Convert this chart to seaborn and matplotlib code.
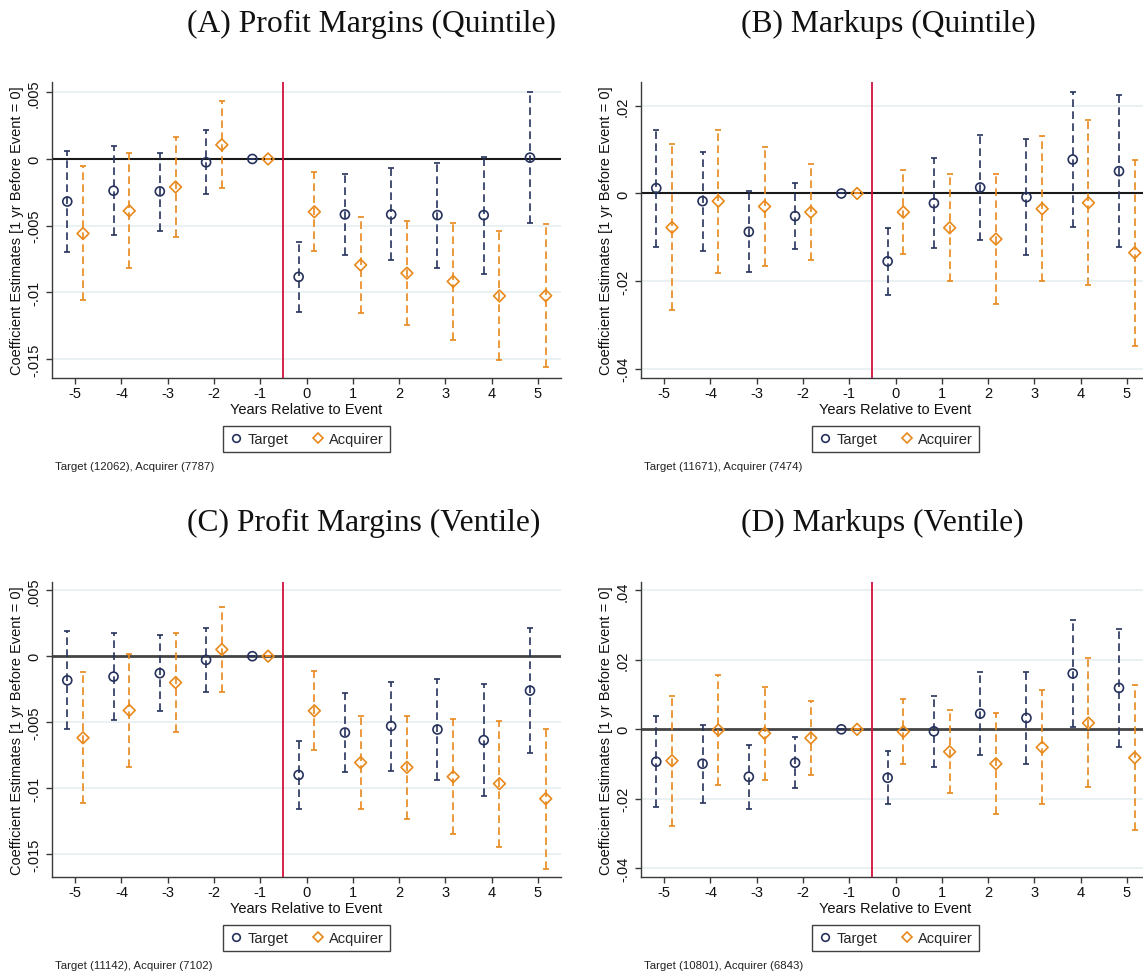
import numpy as np
import pandas as pd
import matplotlib
matplotlib.use("Agg")
import matplotlib.pyplot as plt
from matplotlib.lines import Line2D
from matplotlib.ticker import FixedLocator, FixedFormatter
import seaborn as sns

# ---------------------------------------------------------------------------
# Event-study coefficients (point estimate, upper and lower 95% bound)
# ---------------------------------------------------------------------------
years = [-5, -4, -3, -2, -1, 0, 1, 2, 3, 4, 5]

# (A) Profit margins, quintile
a_tgt = [-0.00319, -0.00238, -0.00243, -0.00025, 0.0, -0.00884, -0.00416, -0.00416, -0.00421, -0.00421, 0.00010]
a_tgt_hi = [0.00059, 0.00099, 0.00047, 0.00218, 0.0, -0.00624, -0.00114, -0.00069, -0.00030, 0.00015, 0.00502]
a_tgt_lo = [-0.00696, -0.00572, -0.00537, -0.00262, 0.0, -0.01144, -0.00720, -0.00760, -0.00817, -0.00859, -0.00483]
a_acq = [-0.00559, -0.00389, -0.00210, 0.00106, 0.0, -0.00396, -0.00795, -0.00856, -0.00918, -0.01027, -0.01025]
a_acq_hi = [-0.00054, 0.00045, 0.00161, 0.00433, 0.0, -0.00097, -0.00438, -0.00465, -0.00480, -0.00542, -0.00488]
a_acq_lo = [-0.01059, -0.00817, -0.00584, -0.00215, 0.0, -0.00693, -0.01153, -0.01245, -0.01359, -0.01510, -0.01557]

# (B) Markups, quintile
b_tgt = [0.00122, -0.00175, -0.00875, -0.00517, 0.0, -0.01551, -0.00221, 0.00137, -0.00084, 0.00776, 0.00510]
b_tgt_hi = [0.01460, 0.00958, 0.00053, 0.00243, 0.0, -0.00799, 0.00814, 0.01346, 0.01247, 0.02327, 0.02259]
b_tgt_lo = [-0.01224, -0.01316, -0.01802, -0.01270, 0.0, -0.02312, -0.01255, -0.01072, -0.01415, -0.00768, -0.01224]
b_acq = [-0.00776, -0.00175, -0.00297, -0.00426, 0.0, -0.00426, -0.00783, -0.01042, -0.00350, -0.00213, -0.01354]
b_acq_hi = [0.01133, 0.01460, 0.01072, 0.00669, 0.0, 0.00548, 0.00449, 0.00441, 0.01316, 0.01681, 0.00768]
b_acq_lo = [-0.02669, -0.01810, -0.01658, -0.01513, 0.0, -0.01392, -0.02000, -0.02517, -0.02008, -0.02099, -0.03475]

# (C) Profit margins, ventile
c_tgt = [-0.00183, -0.00155, -0.00129, -0.00028, 0.0, -0.00901, -0.00579, -0.00530, -0.00556, -0.00637, -0.00261]
c_tgt_hi = [0.00188, 0.00178, 0.00160, 0.00211, 0.0, -0.00645, -0.00279, -0.00195, -0.00170, -0.00213, 0.00216]
c_tgt_lo = [-0.00553, -0.00485, -0.00419, -0.00269, 0.0, -0.01157, -0.00878, -0.00871, -0.00942, -0.01063, -0.00736]
c_acq = [-0.00619, -0.00411, -0.00200, 0.00051, 0.0, -0.00414, -0.00807, -0.00843, -0.00914, -0.00967, -0.01081]
c_acq_hi = [-0.00119, 0.00018, 0.00173, 0.00376, 0.0, -0.00114, -0.00452, -0.00452, -0.00477, -0.00490, -0.00553]
c_acq_lo = [-0.01117, -0.00838, -0.00574, -0.00274, 0.0, -0.00713, -0.01162, -0.01233, -0.01350, -0.01444, -0.01612]

# (D) Markups, ventile
d_tgt = [-0.00933, -0.00990, -0.01365, -0.00962, 0.0, -0.01394, -0.00058, 0.00452, 0.00327, 0.01606, 0.01192]
d_tgt_hi = [0.00375, 0.00125, -0.00442, -0.00212, 0.0, -0.00635, 0.00971, 0.01644, 0.01644, 0.03135, 0.02894]
d_tgt_lo = [-0.02240, -0.02106, -0.02288, -0.01702, 0.0, -0.02144, -0.01077, -0.00740, -0.00990, 0.00077, -0.00510]
d_acq = [-0.00904, -0.00019, -0.00115, -0.00250, 0.0, -0.00067, -0.00644, -0.00990, -0.00519, 0.00183, -0.00817]
d_acq_hi = [0.00962, 0.01577, 0.01221, 0.00827, 0.0, 0.00885, 0.00558, 0.00471, 0.01125, 0.02048, 0.01288]
d_acq_lo = [-0.02769, -0.01615, -0.01452, -0.01308, 0.0, -0.01010, -0.01837, -0.02433, -0.02144, -0.01673, -0.02904]

titles = ["(A) Profit Margins (Quintile)", "(B) Markups (Quintile)",
          "(C) Profit Margins (Ventile)", "(D) Markups (Ventile)"]
notes = ["Target (12062), Acquirer (7787)", "Target (11671), Acquirer (7474)",
         "Target (11142), Acquirer (7102)", "Target (10801), Acquirer (6843)"]

ytick_vals_pm = [0.005, 0.0, -0.005, -0.01, -0.015]
ytick_lbls_pm = [".005", "0", "-.005", "-.01", "-.015"]
ytick_vals_mq = [0.02, 0.0, -0.02, -0.04]
ytick_lbls_mq = [".02", "0", "-.02", "-.04"]
ytick_vals_mv = [0.04, 0.02, 0.0, -0.02, -0.04]
ytick_lbls_mv = [".04", ".02", "0", "-.02", "-.04"]

series = [
    (a_tgt, a_tgt_lo, a_tgt_hi, a_acq, a_acq_lo, a_acq_hi),
    (b_tgt, b_tgt_lo, b_tgt_hi, b_acq, b_acq_lo, b_acq_hi),
    (c_tgt, c_tgt_lo, c_tgt_hi, c_acq, c_acq_lo, c_acq_hi),
    (d_tgt, d_tgt_lo, d_tgt_hi, d_acq, d_acq_lo, d_acq_hi),
]
yticks = [(ytick_vals_pm, ytick_lbls_pm), (ytick_vals_mq, ytick_lbls_mq),
          (ytick_vals_pm, ytick_lbls_pm), (ytick_vals_mv, ytick_lbls_mv)]
ylims = [(-0.01642, 0.00577), (-0.04217, 0.02548), (-0.01675, 0.00563), (-0.0425, 0.0424)]

# ---------------------------------------------------------------------------
# Styling
# ---------------------------------------------------------------------------
sns.set_theme(style="white")
plt.rcParams["font.family"] = ["Liberation Sans", "DejaVu Sans"]
plt.rcParams["axes.linewidth"] = 1.0

NAVY = "#26325c"
ORANGE = "#e8891c"
RED = "#d2103c"
GRID = "#e6eff0"
AXC = "#3a3a3a"
DASH = (0, (4.6, 2.6))

W, H = 1143, 978
fig = plt.figure(figsize=(W / 100, H / 100), dpi=100)

# axes boxes in pixels: (left, top, width, height)
boxes = [(52, 83, 509, 296), (641, 83, 509, 296),
         (52, 583, 509, 295), (641, 583, 509, 295)]
title_pos = [(187, 32), (741, 32), (187, 531), (741, 531)]
note_pos = [(55, 467), (644, 467), (55, 966), (644, 966)]

offset = 0.17
groups = [("Target", NAVY, "o", 42), ("Acquirer", ORANGE, "D", 36)]

for i, (box, ser) in enumerate(zip(boxes, series)):
    l, t, w, h = box
    ax = fig.add_axes([l / W, 1 - (t + h) / H, w / W, h / H])
    vals, lbls = yticks[i]
    ax.set_xlim(-5.5, 5.5)
    ax.set_ylim(*ylims[i])

    for y in vals:
        if y != 0:
            ax.axhline(y, color=GRID, lw=1.2, zorder=0)
    ax.axhline(0, color="#1a1a1a" if i < 2 else "#444444", lw=1.5 if i < 2 else 2.0, zorder=1)
    ax.axvline(-0.5, color=RED, lw=1.3, zorder=1)

    tg, tlo, thi, aq, alo, ahi = ser
    for (name, col, mk, sz), est, lo, hi, sgn in [
        (groups[0], tg, tlo, thi, -1), (groups[1], aq, alo, ahi, 1)]:
        df = pd.DataFrame({"year": years, "coef": est, "lo": lo, "hi": hi})
        df["xpos"] = df["year"] + sgn * offset
        eb = ax.errorbar(df["xpos"], df["coef"],
                         yerr=[df["coef"] - df["lo"], df["hi"] - df["coef"]],
                         fmt="none", ecolor=col, elinewidth=1.2,
                         capsize=2.4, capthick=1.2, zorder=2)
        eb[2][0].set_linestyle(DASH)
        sns.scatterplot(data=df, x="xpos", y="coef", marker=mk, s=sz,
                        color=col, ax=ax, zorder=3, legend=False)
        pts = ax.collections[-1]
        pts.set_facecolor("none")
        pts.set_edgecolor(col)
        pts.set_linewidth(1.2)

    # axes look
    for side in ["top", "right"]:
        ax.spines[side].set_visible(False)
    for side in ["left", "bottom"]:
        ax.spines[side].set_color(AXC)
        ax.spines[side].set_linewidth(1.0)
    ax.set_xticks(years)
    ax.set_xticklabels([str(y) for y in years], fontsize=10.5)
    ax.yaxis.set_major_locator(FixedLocator(vals))
    ax.yaxis.set_major_formatter(FixedFormatter(lbls))
    for lab in ax.get_yticklabels():
        lab.set_rotation(90)
        lab.set_va("center")
        lab.set_fontsize(10.5)
    ax.tick_params(axis="both", direction="out", length=4, width=1.0, color=AXC,
                   left=True, bottom=True, labelcolor="#111111")
    ax.tick_params(axis="x", pad=2)
    ax.tick_params(axis="y", pad=4)
    ax.set_xlabel("Years Relative to Event", fontsize=10.5, color="#111111", labelpad=1)
    ax.set_ylabel("Coefficient Estimates [1 yr Before Event = 0]", fontsize=10.5,
                  color="#111111", labelpad=2)
    ax.grid(False)

    handles = [Line2D([], [], ls="none", marker="o", ms=5.5, mfc="none", mec=NAVY, mew=1.2),
               Line2D([], [], ls="none", marker="D", ms=5.5, mfc="none", mec=ORANGE, mew=1.2)]
    leg = ax.legend(handles, ["Target", "Acquirer"], loc="center",
                    bbox_to_anchor=(0.5, (379 - 440) / 296 if i < 2 else (878 - 939) / 295),
                    ncol=2, frameon=True, fancybox=False, fontsize=10.5,
                    handletextpad=0.3, columnspacing=1.5, borderpad=0.4,
                    handlelength=1.0)
    leg.get_frame().set_edgecolor("#111111")
    leg.get_frame().set_linewidth(1.0)

    tx, ty = title_pos[i]
    fig.text(tx / W, 1 - ty / H, titles[i], fontsize=22.8, family="Liberation Serif",
             ha="left", va="baseline", color="#111111")
    nx, ny = note_pos[i]
    fig.text(nx / W, 1 - ny / H, notes[i], fontsize=8.2, ha="left", va="center",
             color="#222222")

fig.savefig("out.png", dpi=100, facecolor="white")
